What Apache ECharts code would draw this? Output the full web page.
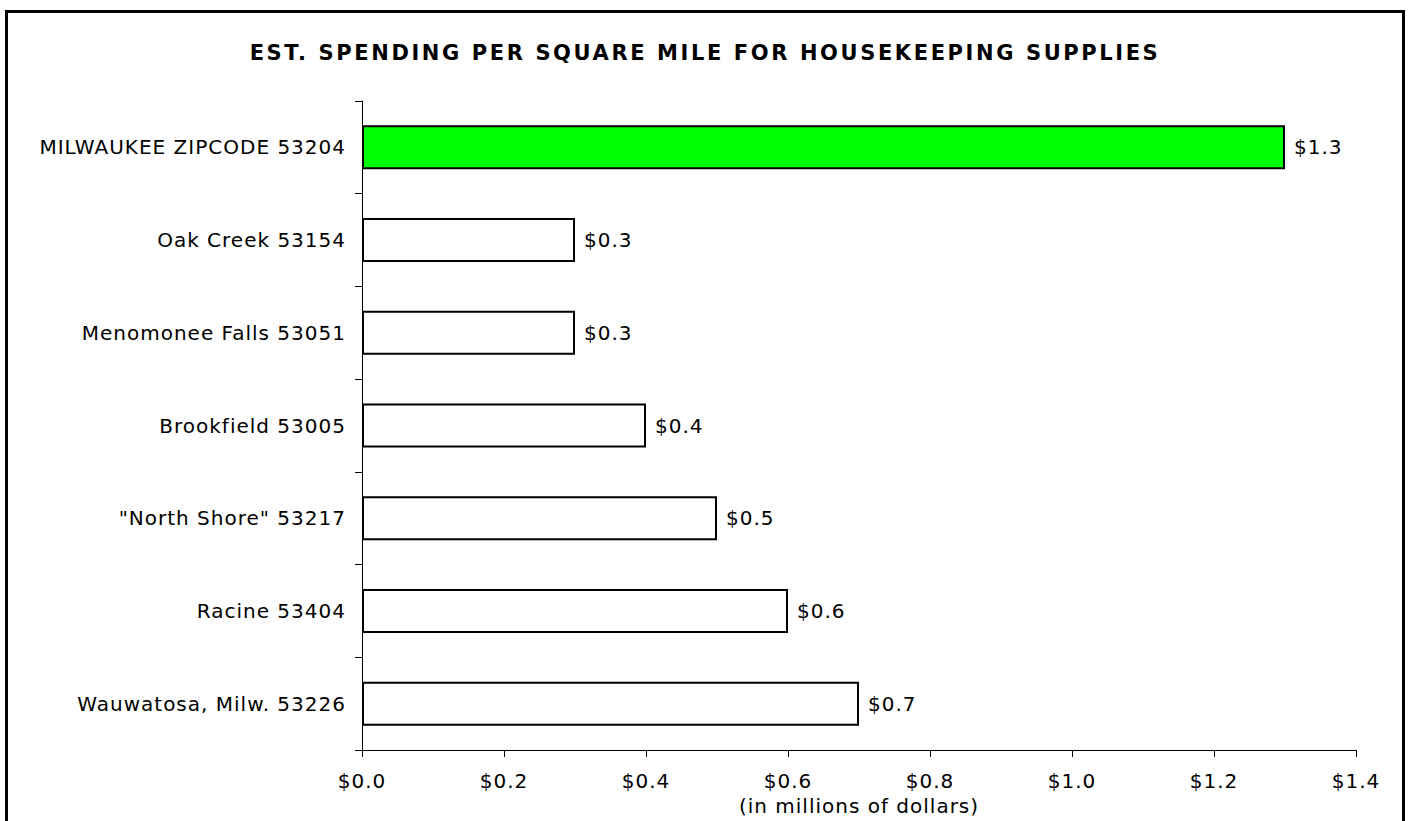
<!DOCTYPE html>
<html><head><meta charset="utf-8">
<script src="https://cdn.jsdelivr.net/npm/echarts@6/dist/echarts.min.js"></script>
<style>html,body{margin:0;padding:0;background:#fff}
#frame{position:absolute;left:5px;top:10px;width:1400px;height:830px;border:3px solid #000;border-bottom:none;box-sizing:border-box}
#c{position:absolute;left:0;top:0;width:1410px;height:821px}
#c text{letter-spacing:1px}
#c text[style*="bold"]{letter-spacing:2.6px}</style>
</head><body><div id="frame"></div><div id="c"></div>
<script>
const categories = ['MILWAUKEE ZIPCODE 53204','Oak Creek 53154','Menomonee Falls 53051','Brookfield 53005','"North Shore" 53217','Racine 53404','Wauwatosa, Milw. 53226'];
const values = [1.3, 0.3, 0.3, 0.4, 0.5, 0.6, 0.7];
const barColors = ['#00ff00','#ffffff','#ffffff','#ffffff','#ffffff','#ffffff','#ffffff'];
const title = 'EST. SPENDING PER SQUARE MILE FOR HOUSEKEEPING SUPPLIES';
const xAxisName = '(in millions of dollars)';

const font = 'DejaVu Sans, Verdana, sans-serif';
const chart = echarts.init(document.getElementById('c'), null, {renderer:'svg'});
chart.setOption({
  backgroundColor: 'transparent',
  animation: false,
  title: {text: title, left: 'center', top: 37, textStyle:{fontFamily:font, fontSize:21, fontWeight:'bold', color:'#000'}},
  grid: {left: 362, right: 54, top: 101, bottom: 71, containLabel: false},
  xAxis: {
    type: 'value', min: 0, max: 1.4, interval: 0.2,
    name: xAxisName, nameLocation: 'middle', nameGap: 44,
    nameTextStyle: {fontFamily:font, fontSize:20, color:'#000'},
    axisLine: {show:true, lineStyle:{color:'#000', width:1}},
    axisTick: {show:true, length:7, lineStyle:{color:'#000'}},
    axisLabel: {fontFamily:font, fontSize:20, color:'#000', margin:21, formatter: v => '$' + v.toFixed(1)},
    splitLine: {show:false}
  },
  yAxis: {
    type: 'category', data: categories, inverse: true,
    axisLine: {show:true, lineStyle:{color:'#000', width:1}},
    axisTick: {show:true, length:7, inside:false, lineStyle:{color:'#000'}},
    axisLabel: {fontFamily:font, fontSize:20, color:'#000', margin:16}
  },
  series: [{
    type: 'bar',
    data: values.map((v,i) => ({value:v, itemStyle:{color:barColors[i]}})),
    barWidth: 44,
    itemStyle: {borderColor:'#000', borderWidth:2},
    label: {show:true, position:'right', distance:9, fontFamily:font, fontSize:20, color:'#000', formatter: p => '$' + p.value.toFixed(1)}
  }]
});
</script></body></html>
